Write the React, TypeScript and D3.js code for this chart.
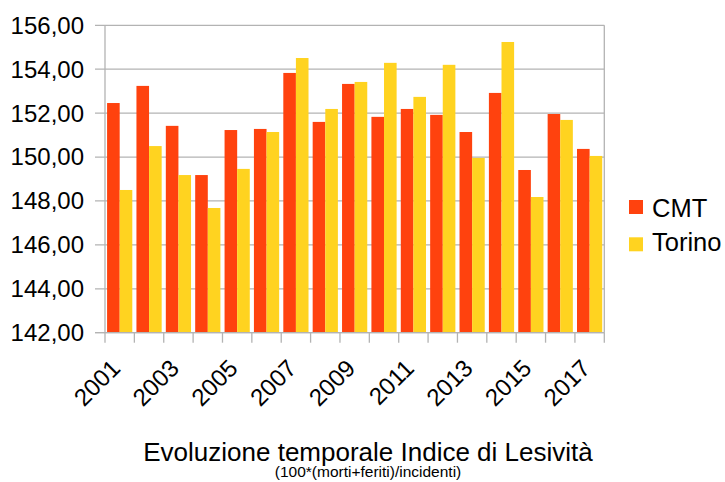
import React from "react";
import * as d3 from "d3";

const years = ["2001","2002","2003","2004","2005","2006","2007","2008","2009","2010","2011","2012","2013","2014","2015","2016","2017"];
const cmt = [152.46,153.24,151.42,149.18,151.23,151.28,153.83,151.60,153.33,151.83,152.19,151.92,151.14,152.92,149.41,151.96,150.37];
const torino = [148.50,150.50,149.18,147.68,149.46,151.14,154.51,152.19,153.42,154.29,152.74,154.20,149.96,155.24,148.18,151.69,150.05];
const seriesNames = ["CMT","Torino"];
const yTicks = [142,144,146,148,150,152,154,156];
const colors = ["#FF420E","#FFD320"];

const W = 725, H = 482;
const left = 105, right = 604.3, top = 25.3, bottom = 332.7;
const font = "'Liberation Sans', Arial, sans-serif";

export default function App() {
  const x = d3.scaleBand<string>().domain(years).range([left, right]).paddingInner(0).paddingOuter(0);
  const inner = d3.scaleBand<string>().domain(seriesNames).range([0, x.bandwidth()]).paddingInner(0).paddingOuter(0.165);
  const y = d3.scaleLinear().domain([142, 156]).range([bottom, top]);
  const fmt = (v: number) => v.toFixed(2).replace(".", ",");
  const data = [cmt, torino];
  return (
    <svg width={W} height={H} style={{ position: "absolute", left: 0, top: 0, background: "#fff" }} fontFamily={font}>
      <rect width={W} height={H} fill="#fff" />
      {yTicks.map((t) => (
        <g key={t}>
          <line x1={left - 10} x2={right} y1={y(t)} y2={y(t)} stroke="#b3b3b3" strokeWidth={1.3} />
          <text x={84} y={y(t)} dy="0.35em" textAnchor="end" fontSize={24} fill="#000">{fmt(t)}</text>
        </g>
      ))}
      {years.map((yr, i) => (
        <g key={yr}>
          {data.map((s, j) => (
            <rect key={j} x={(x(yr) as number) + (inner(seriesNames[j]) as number)} width={inner.bandwidth()} y={y(s[i])} height={bottom - y(s[i])} fill={colors[j]} />
          ))}
        </g>
      ))}
      {years.concat(["end"]).map((yr, i) => {
        const xx = left + i * x.step();
        return <line key={"t" + i} x1={xx} x2={xx} y1={bottom} y2={bottom + 10} stroke="#b3b3b3" strokeWidth={1.3} />;
      })}
      <line x1={left} x2={left} y1={top} y2={bottom} stroke="#b3b3b3" strokeWidth={1.3} />
      <line x1={right} x2={right} y1={top} y2={bottom} stroke="#b3b3b3" strokeWidth={1.3} />
      <line x1={left - 10} x2={right} y1={bottom} y2={bottom} stroke="#b3b3b3" strokeWidth={1.3} />
      {years.map((yr, i) => i % 2 === 0 ? (
        <text key={"l" + yr} transform={`translate(${(x(yr) as number) + x.bandwidth() / 2 + 2},${bottom + 37}) rotate(-45)`} textAnchor="end" fontSize={24} fill="#000">{yr}</text>
      ) : null)}
      {seriesNames.map((n, j) => (
        <g key={n}>
          <rect x={629} y={200 + j * 37.3} width={14} height={14} fill={colors[j]} />
          <text x={652} y={216.7 + j * 34.6} fontSize={25.5} fill="#000">{n}</text>
        </g>
      ))}
      <text x={368} y={460.5} textAnchor="middle" fontSize={26} fill="#000">Evoluzione temporale Indice di Lesività</text>
      <text x={368} y={477} textAnchor="middle" fontSize={15.5} fill="#000">(100*(morti+feriti)/incidenti)</text>
    </svg>
  );
}
